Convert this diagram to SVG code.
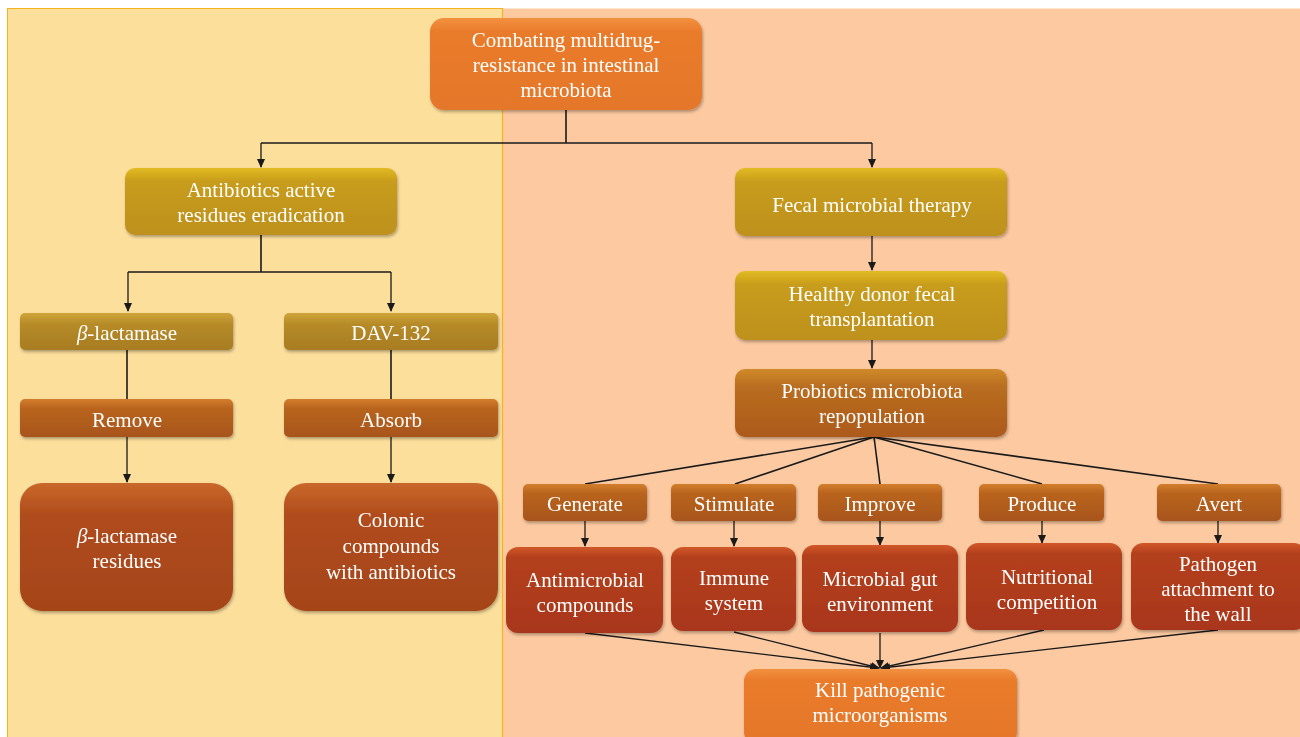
<svg xmlns="http://www.w3.org/2000/svg" width="1300" height="737" viewBox="0 0 1300 737">
<defs>
<style>
.t{font-family:"Liberation Serif","DejaVu Serif",serif;font-size:21px;fill:#ffffff;text-anchor:middle}
.c{stroke:#1a1a1a;stroke-width:1.6;fill:none}
.ca{stroke:#1a1a1a;stroke-width:1.3;fill:none;marker-end:url(#ah)}
.n{filter:url(#sh)}
</style>
<marker id="ah" markerWidth="10" markerHeight="10" refX="8" refY="5" orient="auto" markerUnits="userSpaceOnUse">
<path d="M0,1 L9,5 L0,9 Z" fill="#1a1a1a"/>
</marker>
<filter id="sh" x="-10%" y="-10%" width="120%" height="130%">
<feDropShadow dx="1" dy="2" stdDeviation="1.5" flood-color="#000" flood-opacity="0.3"/>
</filter>
<linearGradient id="gOr" x1="0" y1="0" x2="0" y2="1"><stop offset="0" stop-color="#f2913f"/><stop offset="0.15" stop-color="#e97b2c"/><stop offset="1" stop-color="#e5772a"/></linearGradient>
<linearGradient id="gGd" x1="0" y1="0" x2="0" y2="1"><stop offset="0" stop-color="#e2bb22"/><stop offset="0.2" stop-color="#c89c1c"/><stop offset="1" stop-color="#bd911e"/></linearGradient>
<linearGradient id="gGb" x1="0" y1="0" x2="0" y2="1"><stop offset="0" stop-color="#cfa53a"/><stop offset="0.3" stop-color="#b68b28"/><stop offset="1" stop-color="#a87c22"/></linearGradient>
<linearGradient id="gBr" x1="0" y1="0" x2="0" y2="1"><stop offset="0" stop-color="#d37e2c"/><stop offset="0.25" stop-color="#b9641f"/><stop offset="1" stop-color="#a8551b"/></linearGradient>
<linearGradient id="gPb" x1="0" y1="0" x2="0" y2="1"><stop offset="0" stop-color="#d08a2a"/><stop offset="0.25" stop-color="#b96e20"/><stop offset="1" stop-color="#ad5a1c"/></linearGradient>
<linearGradient id="gVb" x1="0" y1="0" x2="0" y2="1"><stop offset="0" stop-color="#c9682a"/><stop offset="0.25" stop-color="#b04c1c"/><stop offset="1" stop-color="#a54419"/></linearGradient>
<linearGradient id="gRd" x1="0" y1="0" x2="0" y2="1"><stop offset="0" stop-color="#d2582a"/><stop offset="0.12" stop-color="#b3401c"/><stop offset="1" stop-color="#a9361a"/></linearGradient>
</defs>

<g id="background">
<rect x="0" y="0" width="1300" height="737" fill="#ffffff"/>
<rect x="7.5" y="8.5" width="495" height="730" fill="#fddf9c" stroke="#f2b41c" stroke-width="1"/>
<rect x="502.5" y="8.5" width="798" height="730" fill="#fcc9a0"/>
<line x1="502.5" y1="8" x2="502.5" y2="737" stroke="#f2b41c" stroke-width="1.2"/>
</g>

<g id="connectors">
<path class="c" d="M566,110 V143 M261,143 H872"/>
<path class="ca" d="M261,143 V167"/>
<path class="ca" d="M872,143 V167"/>
<path class="c" d="M261,235 V272 M128,272 H391"/>
<path class="ca" d="M128,272 V311"/>
<path class="ca" d="M391,272 V311"/>
<path class="c" d="M127,350 V399"/>
<path class="c" d="M391,350 V399"/>
<path class="ca" d="M127,437 V482"/>
<path class="ca" d="M391,437 V482"/>
<path class="ca" d="M872,236 V270"/>
<path class="ca" d="M872,340 V368"/>
<path class="c" d="M874,437 L585,484"/>
<path class="c" d="M874,437 L735,484"/>
<path class="c" d="M874,437 L880,484"/>
<path class="c" d="M874,437 L1042,484"/>
<path class="c" d="M874,437 L1218,484"/>
<path class="ca" d="M585,521 V546"/>
<path class="ca" d="M734,521 V546"/>
<path class="ca" d="M880,521 V545"/>
<path class="ca" d="M1042,521 V543"/>
<path class="ca" d="M1218,521 V543"/>
<path class="ca" d="M585,633 L878,668"/>
<path class="ca" d="M734,632 L879,668"/>
<path class="ca" d="M880,633 V668"/>
<path class="ca" d="M1044,630 L881,668"/>
<path class="ca" d="M1218,630 L882,668"/>
</g>

<g id="n-top" class="n">
<rect x="430" y="18" width="272" height="92" rx="14" fill="url(#gOr)"/>
<text class="t" x="566" y="47">Combating multidrug-</text>
<text class="t" x="566" y="72">resistance in intestinal</text>
<text class="t" x="566" y="97">microbiota</text>
</g>

<g id="n-antibiotics" class="n">
<rect x="125" y="168" width="272" height="67" rx="10" fill="url(#gGd)"/>
<text class="t" x="261" y="197">Antibiotics active</text>
<text class="t" x="261" y="222">residues eradication</text>
</g>

<g id="n-fecal" class="n">
<rect x="735" y="168" width="272" height="68" rx="10" fill="url(#gGd)"/>
<text class="t" x="872" y="212">Fecal microbial therapy</text>
</g>

<g id="n-blact" class="n">
<rect x="20" y="313" width="213" height="37" rx="5" fill="url(#gGb)"/>
<text class="t" x="127" y="340"><tspan font-style="italic">β</tspan>-lactamase</text>
</g>

<g id="n-dav" class="n">
<rect x="284" y="313" width="214" height="37" rx="5" fill="url(#gGb)"/>
<text class="t" x="391" y="340">DAV-132</text>
</g>

<g id="n-remove" class="n">
<rect x="20" y="399" width="213" height="38" rx="5" fill="url(#gBr)"/>
<text class="t" x="127" y="427">Remove</text>
</g>

<g id="n-absorb" class="n">
<rect x="284" y="399" width="214" height="38" rx="5" fill="url(#gBr)"/>
<text class="t" x="391" y="427">Absorb</text>
</g>

<g id="n-bres" class="n">
<rect x="20" y="483" width="213" height="128" rx="22" fill="url(#gVb)"/>
<text class="t" x="127" y="543"><tspan font-style="italic">β</tspan>-lactamase</text>
<text class="t" x="127" y="568">residues</text>
</g>

<g id="n-colonic" class="n">
<rect x="284" y="483" width="214" height="128" rx="22" fill="url(#gVb)"/>
<text class="t" x="391" y="527">Colonic</text>
<text class="t" x="391" y="553">compounds</text>
<text class="t" x="391" y="579">with antibiotics</text>
</g>

<g id="n-healthy" class="n">
<rect x="735" y="271" width="272" height="69" rx="10" fill="url(#gGd)"/>
<text class="t" x="872" y="301">Healthy donor fecal</text>
<text class="t" x="872" y="326">transplantation</text>
</g>

<g id="n-probiotics" class="n">
<rect x="735" y="369" width="272" height="68" rx="10" fill="url(#gPb)"/>
<text class="t" x="872" y="398">Probiotics microbiota</text>
<text class="t" x="872" y="423">repopulation</text>
</g>

<g id="n-generate" class="n">
<rect x="523" y="484" width="124" height="37" rx="5" fill="url(#gBr)"/>
<text class="t" x="585" y="511">Generate</text>
</g>
<g id="n-stimulate" class="n">
<rect x="671" y="484" width="125" height="37" rx="5" fill="url(#gBr)"/>
<text class="t" x="734" y="511">Stimulate</text>
</g>
<g id="n-improve" class="n">
<rect x="818" y="484" width="124" height="37" rx="5" fill="url(#gBr)"/>
<text class="t" x="880" y="511">Improve</text>
</g>
<g id="n-produce" class="n">
<rect x="979" y="484" width="125" height="37" rx="5" fill="url(#gBr)"/>
<text class="t" x="1042" y="511">Produce</text>
</g>
<g id="n-avert" class="n">
<rect x="1157" y="484" width="124" height="37" rx="5" fill="url(#gBr)"/>
<text class="t" x="1219" y="511">Avert</text>
</g>

<g id="n-antimicrobial" class="n">
<rect x="506" y="547" width="157" height="86" rx="12" fill="url(#gRd)"/>
<text class="t" x="585" y="587">Antimicrobial</text>
<text class="t" x="585" y="612">compounds</text>
</g>
<g id="n-immune" class="n">
<rect x="671" y="547" width="125" height="84" rx="12" fill="url(#gRd)"/>
<text class="t" x="734" y="585">Immune</text>
<text class="t" x="734" y="610">system</text>
</g>
<g id="n-microbial" class="n">
<rect x="802" y="545" width="156" height="87" rx="12" fill="url(#gRd)"/>
<text class="t" x="880" y="586">Microbial gut</text>
<text class="t" x="880" y="611">environment</text>
</g>
<g id="n-nutritional" class="n">
<rect x="966" y="543" width="156" height="87" rx="12" fill="url(#gRd)"/>
<text class="t" x="1047" y="584">Nutritional</text>
<text class="t" x="1047" y="609">competition</text>
</g>
<g id="n-pathogen" class="n">
<rect x="1131" y="543" width="175" height="87" rx="12" fill="url(#gRd)"/>
<text class="t" x="1218" y="571">Pathogen</text>
<text class="t" x="1218" y="596">attachment to</text>
<text class="t" x="1218" y="621">the wall</text>
</g>

<g id="n-kill" class="n">
<rect x="744" y="669" width="273" height="75" rx="12" fill="url(#gOr)"/>
<text class="t" x="880" y="697">Kill pathogenic</text>
<text class="t" x="880" y="722">microorganisms</text>
</g>
</svg>
